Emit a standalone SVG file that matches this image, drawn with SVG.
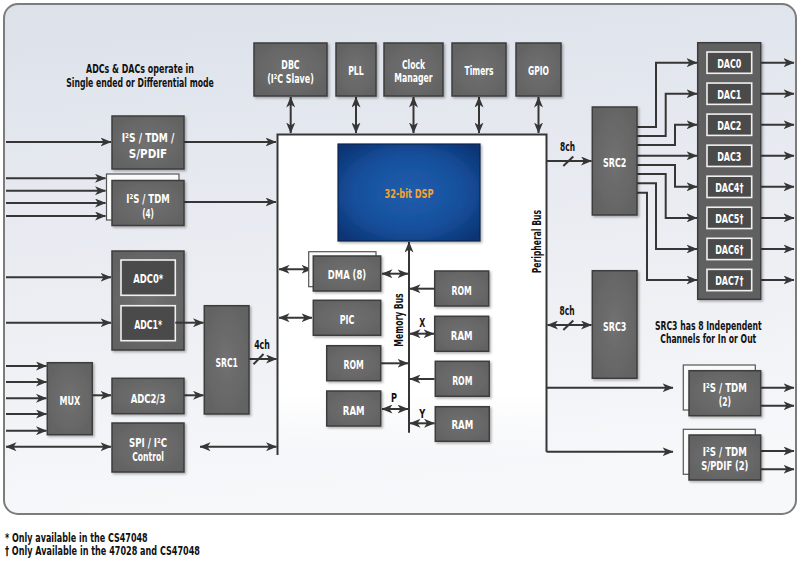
<svg xmlns="http://www.w3.org/2000/svg" width="800" height="562" viewBox="0 0 800 562">
<defs>
<style>
.t{font-family:'Liberation Sans Narrow','DejaVu Sans Condensed','Liberation Sans',Arial,sans-serif;font-weight:bold;font-size:13px;text-anchor:middle;fill:#fff}
.k{fill:#111}
.s{text-anchor:start}
.ln{fill:none;stroke:#363636;stroke-width:2}
.a{marker-end:url(#ah)}
.d{marker-start:url(#ah);marker-end:url(#ah)}
.box{fill:url(#gb);stroke:#3c3c3c;stroke-width:1.5;filter:url(#sh)}
.back{fill:#fafafa;stroke:#555;stroke-width:1.2}
.inner{fill:#4a4a4a;stroke:#f0f0f0;stroke-width:1.6}
</style>
<linearGradient id="bg" x1="0" y1="0" x2="0.15" y2="1">
<stop offset="0" stop-color="#dce1ea"/>
<stop offset="0.6" stop-color="#eceef3"/>
<stop offset="1" stop-color="#f7f8fa"/>
</linearGradient>
<linearGradient id="core" x1="0" y1="0" x2="0" y2="1">
<stop offset="0" stop-color="#fff" stop-opacity="1"/>
<stop offset="0.8" stop-color="#fff" stop-opacity="1"/>
<stop offset="1" stop-color="#fff" stop-opacity="0"/>
</linearGradient>
<radialGradient id="gb" cx="0.5" cy="0.5" r="0.6">
<stop offset="0" stop-color="#717171"/>
<stop offset="1" stop-color="#626262"/>
</radialGradient>
<radialGradient id="dsp" cx="0.5" cy="0.5" r="0.65">
<stop offset="0" stop-color="#1f5eae"/>
<stop offset="0.6" stop-color="#164f9b"/>
<stop offset="1" stop-color="#0b3474"/>
</radialGradient>
<filter id="sh" x="-10%" y="-10%" width="130%" height="130%">
<feDropShadow dx="1.5" dy="1.5" stdDeviation="1" flood-color="#000" flood-opacity="0.3"/>
</filter>
<marker id="ah" viewBox="0 0 11 9" refX="10.5" refY="4.5" markerWidth="11" markerHeight="9" markerUnits="userSpaceOnUse" orient="auto-start-reverse">
<path d="M0,0 L11,4.5 L0,9 L3,4.5 z" fill="#363636"/>
</marker>
</defs>

<rect x="0" y="0" width="800" height="562" fill="#fff"/>
<rect x="4" y="4" width="792" height="510" rx="14" fill="url(#bg)" stroke="#7c7c7c" stroke-width="2"/>
<rect x="277.5" y="134.5" width="269" height="325" fill="url(#core)"/>

<g id="connectors">
<path class="ln" d="M277.5,455 V134.5 H546.5 V451.7"/>
<path class="ln a" d="M546.5,451.7 H673"/>
<path class="ln a" d="M546.5,387.7 H673"/>
<path class="ln d" d="M290.7,97 V133"/>
<path class="ln d" d="M356,97 V133"/>
<path class="ln d" d="M413.5,97 V133"/>
<path class="ln d" d="M479,97 V133"/>
<path class="ln d" d="M538.5,97 V133"/>
<path class="ln a" d="M6,142 H111"/>
<path class="ln a" d="M184,142 H276"/>
<path class="ln a" d="M6,178.3 H105.5"/>
<path class="ln a" d="M6,190.7 H105.5"/>
<path class="ln a" d="M6,203 H105.5"/>
<path class="ln a" d="M6,216 H105.5"/>
<path class="ln a" d="M184,202 H276"/>
<path class="ln a" d="M6,277.3 H111"/>
<path class="ln a" d="M6,322.7 H111"/>
<path class="ln a" d="M6,366 H46.5"/>
<path class="ln a" d="M6,382 H46.5"/>
<path class="ln a" d="M6,398.3 H46.5"/>
<path class="ln a" d="M6,414 H46.5"/>
<path class="ln a" d="M6,430.7 H46.5"/>
<path class="ln a" d="M92.5,395.3 H111"/>
<path class="ln a" d="M184,395.3 H203.5"/>
<path class="ln d" d="M6,446.7 H111"/>
<path class="ln d" d="M200,446.7 H276.5"/>
<path class="ln a" d="M249,359 H276.5"/>
<path class="ln" d="M253.5,364.3 L263.5,354"/>
<path class="ln a" d="M409,432.7 V242"/>
<path class="ln d" d="M279,269.3 H312"/>
<path class="ln d" d="M382,273.7 H408"/>
<path class="ln d" d="M279,317.7 H312"/>
<path class="ln a" d="M381,363.3 H408"/>
<path class="ln d" d="M382,409 H408"/>
<path class="ln a" d="M434,288.7 H410"/>
<path class="ln d" d="M410,333.7 H434"/>
<path class="ln a" d="M434.5,379 H410"/>
<path class="ln d" d="M410,423.3 H434.5"/>
<path class="ln a" d="M546.5,161 H591.5"/>
<path class="ln" d="M563.3,166 L573.3,156.5"/>
<path class="ln d" d="M547.5,325 H591.5"/>
<path class="ln" d="M563.3,330 L573.3,320.5"/>
<path class="ln a" d="M637,127 H656 V62.65 H697"/>
<path class="ln a" d="M637,136 H665.7 V93.7 H697"/>
<path class="ln a" d="M637,145 H675 V124.75 H697"/>
<path class="ln a" d="M637,155.8 H697"/>
<path class="ln a" d="M637,165 H675 V186.85 H697"/>
<path class="ln a" d="M637,174 H665.7 V217.9 H697"/>
<path class="ln a" d="M637,183.3 H656 V248.95 H697"/>
<path class="ln a" d="M637,192.7 H647 V280 H697"/>
<path class="ln a" d="M761,62.65 H794"/>
<path class="ln a" d="M761,93.7 H794"/>
<path class="ln a" d="M761,124.75 H794"/>
<path class="ln a" d="M761,155.8 H794"/>
<path class="ln a" d="M761,186.85 H794"/>
<path class="ln a" d="M761,217.9 H794"/>
<path class="ln a" d="M761,248.95 H794"/>
<path class="ln a" d="M761,280 H794"/>
<path class="ln a" d="M761,387.7 H794"/>
<path class="ln a" d="M761,405.7 H794"/>
<path class="ln a" d="M761,451 H794"/>
<path class="ln a" d="M761,469.3 H794"/>
</g>

<g id="dbc"><rect class="box" x="254" y="43" width="73" height="53"/>
<text class="t" x="290.5" y="69" textLength="18.3" lengthAdjust="spacingAndGlyphs">DBC</text>
<text class="t" x="290.5" y="83.3" textLength="46.7" lengthAdjust="spacingAndGlyphs">(I²C Slave)</text></g>
<g id="pll"><rect class="box" x="336" y="43" width="40" height="53"/>
<text class="t" x="356" y="75" textLength="15.7" lengthAdjust="spacingAndGlyphs">PLL</text></g>
<g id="clock-manager"><rect class="box" x="384" y="43" width="59" height="53"/>
<text class="t" x="413.5" y="68.5" textLength="23" lengthAdjust="spacingAndGlyphs">Clock</text>
<text class="t" x="413.5" y="82" textLength="38.3" lengthAdjust="spacingAndGlyphs">Manager</text></g>
<g id="timers"><rect class="box" x="452" y="43" width="54" height="53"/>
<text class="t" x="479" y="75" textLength="29" lengthAdjust="spacingAndGlyphs">Timers</text></g>
<g id="gpio"><rect class="box" x="516" y="43" width="45" height="53"/>
<text class="t" x="538.5" y="75" textLength="21" lengthAdjust="spacingAndGlyphs">GPIO</text></g>

<g id="dsp"><rect x="338" y="144" width="142" height="97" fill="url(#dsp)" stroke="#0d2550" stroke-width="1.2" filter="url(#sh)"/>
<text class="t" x="409" y="198" textLength="49" lengthAdjust="spacingAndGlyphs" style="fill:#f5a42a">32-bit DSP</text></g>

<g id="i2s-spdif-in"><rect class="box" x="112" y="116" width="72" height="53"/>
<text class="t" x="148" y="141.7" textLength="52.7" lengthAdjust="spacingAndGlyphs">I²S / TDM /</text>
<text class="t" x="148" y="158.3" textLength="38.3" lengthAdjust="spacingAndGlyphs">S/PDIF</text></g>
<g id="i2s-tdm-4"><rect class="back" x="106.5" y="174" width="72.5" height="46"/>
<rect class="box" x="112" y="180.5" width="72" height="45"/>
<text class="t" x="148" y="202.7" textLength="43.3" lengthAdjust="spacingAndGlyphs">I²S / TDM</text>
<text class="t" x="148" y="218.3" textLength="11.7" lengthAdjust="spacingAndGlyphs">(4)</text></g>

<g id="adc01"><rect class="box" x="112" y="251" width="72" height="99"/>
<rect class="inner" x="121" y="260" width="54.3" height="35.3"/>
<rect class="inner" x="121" y="305.7" width="54.3" height="35"/>
<text class="t" x="148.2" y="283.3" textLength="30" lengthAdjust="spacingAndGlyphs">ADC0*</text>
<text class="t" x="148.2" y="329" textLength="28" lengthAdjust="spacingAndGlyphs">ADC1*</text></g>
<g id="adc1-link"><path class="ln a" d="M175.3,322.7 H203.5"/></g>

<g id="src1"><rect class="box" x="204.3" y="305.7" width="44.7" height="108.3"/>
<text class="t" x="226.7" y="366.7" textLength="22.3" lengthAdjust="spacingAndGlyphs">SRC1</text></g>
<g id="mux"><rect class="box" x="47.3" y="362.7" width="45" height="72"/>
<text class="t" x="69.8" y="405" textLength="20.7" lengthAdjust="spacingAndGlyphs">MUX</text></g>
<g id="adc23"><rect class="box" x="112" y="378.3" width="72" height="35.4"/>
<text class="t" x="148" y="403.3" textLength="34.7" lengthAdjust="spacingAndGlyphs">ADC2/3</text></g>
<g id="spi-i2c"><rect class="box" x="112" y="423" width="72" height="49"/>
<text class="t" x="148" y="446.7" textLength="38" lengthAdjust="spacingAndGlyphs">SPI / I²C</text>
<text class="t" x="148" y="460.7" textLength="31.7" lengthAdjust="spacingAndGlyphs">Control</text></g>

<g id="dma"><rect class="back" x="308.7" y="251.7" width="67.3" height="35"/>
<rect class="box" x="313.3" y="256" width="67.4" height="35"/>
<text class="t" x="347" y="279" textLength="38.3" lengthAdjust="spacingAndGlyphs">DMA (8)</text></g>
<g id="pic"><rect class="box" x="313.3" y="300.3" width="67.4" height="35"/>
<text class="t" x="347" y="324" textLength="14.7" lengthAdjust="spacingAndGlyphs">PIC</text></g>
<g id="rom-p"><rect class="box" x="326.7" y="345.7" width="54" height="35"/>
<text class="t" x="353.7" y="369.3" textLength="20.3" lengthAdjust="spacingAndGlyphs">ROM</text></g>
<g id="ram-p"><rect class="box" x="326.7" y="391" width="54" height="35"/>
<text class="t" x="353.7" y="415" textLength="21.7" lengthAdjust="spacingAndGlyphs">RAM</text></g>
<g id="rom-x"><rect class="box" x="434.7" y="271" width="54" height="35"/>
<text class="t" x="461.7" y="295" textLength="20.3" lengthAdjust="spacingAndGlyphs">ROM</text></g>
<g id="ram-x"><rect class="box" x="434.7" y="316.3" width="54" height="35"/>
<text class="t" x="461.7" y="340" textLength="21.7" lengthAdjust="spacingAndGlyphs">RAM</text></g>
<g id="rom-y"><rect class="box" x="435.3" y="361.3" width="54" height="35"/>
<text class="t" x="462.3" y="385" textLength="20.3" lengthAdjust="spacingAndGlyphs">ROM</text></g>
<g id="ram-y"><rect class="box" x="435.3" y="406.7" width="54" height="34.6"/>
<text class="t" x="462.3" y="429.3" textLength="21.7" lengthAdjust="spacingAndGlyphs">RAM</text></g>

<g id="src2"><rect class="box" x="592.3" y="107" width="44.7" height="108"/>
<text class="t" x="614.7" y="167.3" textLength="23.3" lengthAdjust="spacingAndGlyphs">SRC2</text></g>
<g id="src3"><rect class="box" x="592.3" y="270.7" width="44.7" height="107.6"/>
<text class="t" x="614.7" y="330.7" textLength="23.3" lengthAdjust="spacingAndGlyphs">SRC3</text></g>

<g id="dacs"><rect class="box" x="697.7" y="42.7" width="63" height="256.6" style="fill:#606060"/>
<rect class="inner" x="707" y="52" width="44.7" height="21.3"/>
<rect class="inner" x="707" y="83.05" width="44.7" height="21.3"/>
<rect class="inner" x="707" y="114.1" width="44.7" height="21.3"/>
<rect class="inner" x="707" y="145.15" width="44.7" height="21.3"/>
<rect class="inner" x="707" y="176.2" width="44.7" height="21.3"/>
<rect class="inner" x="707" y="207.25" width="44.7" height="21.3"/>
<rect class="inner" x="707" y="238.3" width="44.7" height="21.3"/>
<rect class="inner" x="707" y="269.35" width="44.7" height="21.3"/>
<text class="t" x="729.3" y="67.6" textLength="24.3" lengthAdjust="spacingAndGlyphs">DAC0</text>
<text class="t" x="729.3" y="98.7" textLength="24.3" lengthAdjust="spacingAndGlyphs">DAC1</text>
<text class="t" x="729.3" y="129.7" textLength="24.3" lengthAdjust="spacingAndGlyphs">DAC2</text>
<text class="t" x="729.3" y="160.8" textLength="24.3" lengthAdjust="spacingAndGlyphs">DAC3</text>
<text class="t" x="729.3" y="191.8" textLength="28.3" lengthAdjust="spacingAndGlyphs">DAC4†</text>
<text class="t" x="729.3" y="222.9" textLength="28.3" lengthAdjust="spacingAndGlyphs">DAC5†</text>
<text class="t" x="729.3" y="253.9" textLength="28.3" lengthAdjust="spacingAndGlyphs">DAC6†</text>
<text class="t" x="729.3" y="285" textLength="28.3" lengthAdjust="spacingAndGlyphs">DAC7†</text></g>

<g id="i2s-tdm-2"><rect class="back" x="683.3" y="365" width="72" height="45"/>
<rect class="box" x="689" y="370.7" width="71.7" height="45"/>
<text class="t" x="724.8" y="391.7" textLength="44" lengthAdjust="spacingAndGlyphs">I²S / TDM</text>
<text class="t" x="724.8" y="406" textLength="12.3" lengthAdjust="spacingAndGlyphs">(2)</text></g>
<g id="i2s-spdif-2"><rect class="back" x="683.3" y="429.3" width="72" height="45"/>
<rect class="box" x="689" y="435" width="71.7" height="45"/>
<text class="t" x="724.8" y="456" textLength="44" lengthAdjust="spacingAndGlyphs">I²S / TDM</text>
<text class="t" x="724.8" y="470" textLength="47.3" lengthAdjust="spacingAndGlyphs">S/PDIF (2)</text></g>

<g id="labels">
<text class="t k" x="140" y="73.3" textLength="108" lengthAdjust="spacingAndGlyphs">ADCs &amp; DACs operate in</text>
<text class="t k" x="140" y="87.3" textLength="147.6" lengthAdjust="spacingAndGlyphs">Single ended or Differential mode</text>
<text class="t k" x="567.5" y="150.7" textLength="15" lengthAdjust="spacingAndGlyphs">8ch</text>
<text class="t k" x="567" y="315" textLength="15" lengthAdjust="spacingAndGlyphs">8ch</text>
<text class="t k" x="262" y="349.3" textLength="15.7" lengthAdjust="spacingAndGlyphs">4ch</text>
<text class="t k" transform="translate(403.3,320) rotate(-90)" textLength="53.3" lengthAdjust="spacingAndGlyphs">Memory Bus</text>
<text class="t k" transform="translate(540.7,241.7) rotate(-90)" textLength="63.3" lengthAdjust="spacingAndGlyphs">Peripheral Bus</text>
<text class="t k" x="422.3" y="327.3" textLength="6" lengthAdjust="spacingAndGlyphs">X</text>
<text class="t k" x="394" y="401.7" textLength="6" lengthAdjust="spacingAndGlyphs">P</text>
<text class="t k" x="422.3" y="418.3" textLength="6" lengthAdjust="spacingAndGlyphs">Y</text>
<text class="t k" x="708.3" y="330" textLength="106.7" lengthAdjust="spacingAndGlyphs">SRC3 has 8 Independent</text>
<text class="t k" x="708.3" y="343.3" textLength="96" lengthAdjust="spacingAndGlyphs">Channels for In or Out</text>
<text class="t k s" x="5" y="541.7" textLength="142.7" lengthAdjust="spacingAndGlyphs">* Only available in the CS47048</text>
<text class="t k s" x="5" y="555" textLength="195" lengthAdjust="spacingAndGlyphs">† Only Available in the 47028 and CS47048</text>
</g>
</svg>
